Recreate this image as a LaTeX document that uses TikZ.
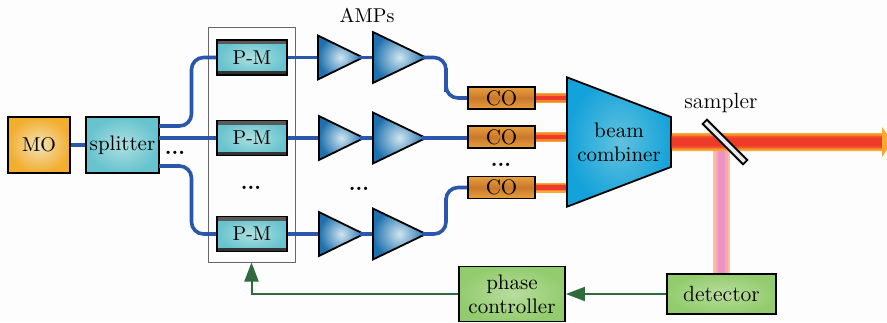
\documentclass[tikz,border=0pt]{standalone}
\usepackage{tikz}
\usetikzlibrary{arrows.meta,positioning,shapes.geometric}
\definecolor{pagebg}{HTML}{FDFDFD}
\definecolor{fiberblue}{HTML}{2A56AC}
\definecolor{loopgreen}{HTML}{2F6B3C}
\definecolor{beamorange}{HTML}{F9A834}
\definecolor{beammid}{HTML}{F5822D}
\definecolor{beamred}{HTML}{EE3A28}
\definecolor{coedge}{HTML}{E9A03C}
\definecolor{comid}{HTML}{C9782C}
\definecolor{moinner}{HTML}{F3E2B8}
\definecolor{moouter}{HTML}{F2AE2E}
\definecolor{cyaninner}{HTML}{AEDFE0}
\definecolor{cyanouter}{HTML}{67C3CF}
\definecolor{ampinner}{HTML}{CFE6F0}
\definecolor{ampouter}{HTML}{1E70AE}
\definecolor{greeninner}{HTML}{B8DD9E}
\definecolor{greenouter}{HTML}{93CC6E}
\definecolor{combinner}{HTML}{62C2DE}
\definecolor{combouter}{HTML}{14A2DA}
\definecolor{pickouter}{HTML}{F9BFA2}
\definecolor{pickmid}{HTML}{F4A8B0}
\definecolor{pickinner}{HTML}{EE92C4}
\begin{document}
\begin{tikzpicture}[
  x=0.5pt,y=-0.5pt,
  font=\fontsize{10.5}{12}\selectfont,
  unit/.style={draw=black,line width=0.9pt,inner sep=0pt,align=center},
  mobox/.style={unit,minimum width=31pt,minimum height=28pt,inner color=moinner,outer color=moouter,font=\fontsize{10}{12}\selectfont},
  cyanbox/.style={unit,inner color=cyaninner,outer color=cyanouter},
  pmbox/.style={cyanbox,minimum width=35pt,minimum height=17.5pt,font=\fontsize{10}{12}\selectfont,
    path picture={
      \fill[black!65] (path picture bounding box.north west) rectangle ([yshift=-2pt]path picture bounding box.north east);
      \fill[black!80] (path picture bounding box.south west) rectangle ([yshift=2pt]path picture bounding box.south east);
    }},
  ampsmall/.style={unit,isosceles triangle,isosceles triangle stretches,anchor=lower side,minimum width=22pt,minimum height=22.5pt,inner color=ampinner,outer color=ampouter},
  ampbig/.style={ampsmall,minimum width=25.5pt,minimum height=26.5pt},
  cobox/.style={unit,minimum width=33.5pt,minimum height=11pt,top color=coedge,bottom color=coedge,middle color=comid},
  greenbox/.style={unit,inner color=greeninner,outer color=greenouter},
  fiber/.style={fiberblue,line width=1.8pt,rounded corners=6pt},
  apexfiber/.style={fiber,shorten <=-3pt},
  beam/.style={draw=beamorange,line width=5pt,postaction={draw=beammid,line width=3.8pt},postaction={draw=beamred,line width=2.4pt}},
  mainbeam/.style={draw=beamorange,line width=9pt,postaction={draw=beammid,line width=7.4pt},postaction={draw=beamred!60!beammid,line width=6pt},postaction={draw=beamred,line width=4.4pt}},
  pickoff/.style={draw=pickouter,line width=8.5pt,postaction={draw=pickmid,line width=6pt},postaction={draw=pickinner,line width=3.5pt}},
  feedback/.style={loopgreen,line width=1pt,-{Triangle[length=9.5pt,width=7pt]}},
  dotslabel/.style={inner sep=0pt,font=\fontsize{10.5}{12}\selectfont\bfseries}
]
\fill[pagebg] (0,0) rectangle (887,322);
\useasboundingbox (0,0) rectangle (887,322);
% source and splitter
\node[mobox] (mo) at (39,145) {MO};
\node[cyanbox,minimum width=36.5pt,minimum height=28pt] (splitter) at (122.5,145) {splitter};
\draw[fiber] (mo) -- (splitter);
% modulators
\node[draw=black!60,line width=0.5pt,minimum width=43.5pt,minimum height=117.5pt] (pmgroup) at (251.5,144.5) {};
\node[pmbox] (pm1) at (252,57.5) {P-M};
\node[pmbox] (pm2) at (252,138) {P-M};
\node[pmbox] (pm3) at (252,234) {P-M};
\coordinate (s1) at (159,126);
\coordinate (s2) at (159,138);
\coordinate (s3) at (159,166);
\draw[fiber] (s1) -| (191.5,90) |- (pm1.west);
\draw[fiber] (s2) -- (pm2.west);
\draw[fiber] (s3) -| (191.5,200) |- (pm3.west);
\node[dotslabel] (dots1) at (175,153) {...};
\node[dotslabel] (dots2) at (251,188) {...};
% amplifiers
\node[font=\fontsize{10}{12}\selectfont] (ampslabel) at (367,15) {AMPs};
\node[ampsmall] (amp11) at (317,57.5) {};
\node[ampbig] (amp12) at (372,57.5) {};
\node[ampsmall] (amp21) at (318,138) {};
\node[ampbig] (amp22) at (372,138) {};
\node[ampsmall] (amp31) at (318,234) {};
\node[ampbig] (amp32) at (372,234) {};
\draw[fiber] (pm1.east) -- (amp11.lower side);
\draw[apexfiber] (amp11.apex) -- (amp12.lower side);
\draw[fiber] (pm2.east) -- (amp21.lower side);
\draw[apexfiber] (amp21.apex) -- (amp22.lower side);
\draw[fiber] (pm3.east) -- (amp31.lower side);
\draw[apexfiber] (amp31.apex) -- (amp32.lower side);
\node[dotslabel] (dots3) at (359,189) {...};
% collimators
\node[cobox] (co1) at (501.5,98) {CO};
\node[cobox] (co2) at (501.5,137) {CO};
\node[cobox] (co3) at (501.5,187.5) {CO};
\draw[apexfiber] (amp12.apex) -| (446,80) |- (co1.west);
\draw[apexfiber] (amp22.apex) -- (amp22.apex -| co2.west);
\draw[apexfiber] (amp32.apex) -| (446,210) |- (co3.west);
\node[dotslabel] (dots4) at (501,165) {...};
% combiner
\node[trapezium,shape border rotate=270,trapezium stretches=true,trapezium left angle=69.7,trapezium right angle=69.7,draw=black,line width=0.9pt,inner sep=0pt,minimum width=65pt,minimum height=52pt,inner color=combinner,outer color=combouter,align=center] (combiner) at (619,142) {beam\\combiner};
\draw[beam] (co1.east) -- (co1.east -| combiner.west);
\draw[beam] (co2.east) -- (co2.east -| combiner.west);
\draw[beam] (co3.east) -- (co3.east -| combiner.west);
% output and sampling
\node[greenbox,minimum width=54.5pt,minimum height=20pt,font=\fontsize{11}{12}\selectfont] (detector) at (721.5,294) {detector};
\node[greenbox,minimum width=53pt,minimum height=27.5pt] (controller) at (512,294) {phase\\controller};
\coordinate (beamend) at (882,142);
\draw[pickoff] (detector.north) -- (detector.north |- beamend);
\draw[mainbeam] (combiner.east) -- (beamend);
\fill[beamorange] (882,127) -- (887,134) -- (887,150) -- (882,157) -- cycle;
\node[draw=black,line width=0.9pt,fill=blue!8!gray!15,minimum width=28.5pt,minimum height=3pt,inner sep=0pt,rotate=-45] (sampler) at (725,142) {};
\node[font=\fontsize{11}{12}\selectfont] (samplerlabel) at (721,103) {sampler};
% feedback
\draw[feedback] (detector.west) -- (controller.east);
\draw[feedback] (controller.west) -| (pmgroup.south);
\end{tikzpicture}
\end{document}
